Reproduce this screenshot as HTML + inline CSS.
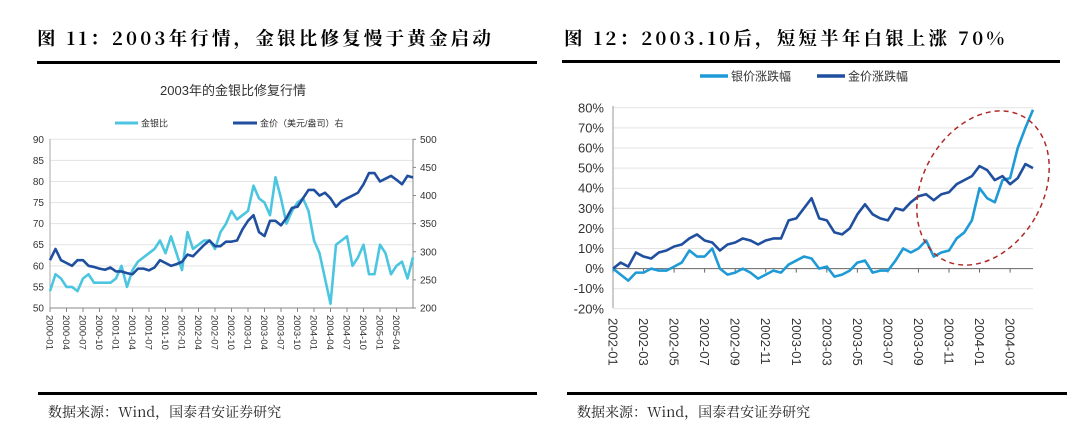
<!DOCTYPE html>
<html><head><meta charset="utf-8">
<style>
html,body{margin:0;padding:0;background:#fff;}
svg{display:block;}
.hdr{font-family:"Noto Serif CJK SC","Liberation Serif",serif;font-weight:bold;font-size:18.5px;letter-spacing:3.2px;fill:#000;}
.ftr{font-family:"Noto Serif CJK SC","Liberation Serif",serif;font-size:14px;fill:#222;}
.ax{font-family:"Liberation Sans","Noto Sans CJK SC",sans-serif;fill:#333;}
</style></head>
<body>
<svg id="s" width="1080" height="443" xmlns="http://www.w3.org/2000/svg">
<text class="hdr" x="37" y="45">图 11：2003年行情，金银比修复慢于黄金启动</text>
<rect x="37" y="61" width="500" height="3" fill="#000"/>
<text class="hdr" x="564" y="45">图 12：2003.10后，短短半年白银上涨 70%</text>
<rect x="562" y="60" width="498" height="3" fill="#000"/>
<rect x="38" y="392" width="499" height="3" fill="#000"/>
<rect x="567" y="392" width="500" height="3" fill="#000"/>
<text class="ftr" x="48" y="417">数据来源：Wind，国泰君安证券研究</text>
<text class="ftr" x="577" y="417">数据来源：Wind，国泰君安证券研究</text>
<text class="ax" x="233" y="95" font-size="13" text-anchor="middle" fill="#222">2003年的金银比修复行情</text>
<g id="L"></g><g id="R"></g>
</svg>
<script>
// ---- Left chart data (monthly from 2000-01) ----
const leftTicks=["2000-01","2000-04","2000-07","2000-10","2001-01","2001-04","2001-07","2001-10","2002-01","2002-04","2002-07","2002-10","2003-01","2003-04","2003-07","2003-10","2004-01","2004-04","2004-07","2004-10","2005-01","2005-04"];
const ratioTicks=[50,55,60,65,70,75,80,85,90];
const goldPxTicks=[200,250,300,350,400,450,500];
const goldSilverRatio=[54,58,57,55,55,54,57,58,56,56,56,56,57,60,55,59,61,62,63,64,66,63,67,63,59,68,64,65,66,66,64,68,70,73,71,72,73,79,76,75,72,81,76,70,73,75,76,73,66,63,57,51,65,66,67,60,62,65,58,58,65,63,58,60,61,57,62];
const goldPrice=[285,305,285,280,275,285,285,275,273,270,268,272,265,265,262,260,270,270,267,272,285,280,275,278,282,295,292,302,312,320,310,310,318,318,320,340,355,365,335,328,355,355,347,360,378,380,395,410,410,400,405,395,380,390,395,400,405,420,440,440,425,430,435,428,420,435,432];
// ---- Right chart data (half-monthly from 2002-01, %) ----
const rightTicks=["2002-01","2002-03","2002-05","2002-07","2002-09","2002-11","2003-01","2003-03","2003-05","2003-07","2003-09","2003-11","2004-01","2004-03"];
const pctTicks=[-20,-10,0,10,20,30,40,50,60,70,80];
const silverChg=[0,-3,-6,-2,-2,0,-1,-1,1,3,9,6,6,10,0,-3,-2,0,-2,-5,-3,-1,-2,2,4,6,5,0,1,-4,-3,-1,3,4,-2,-1,-1,4,10,8,10,14,6,8,9,15,18,24,40,35,33,44,45,60,70,79];
const goldChg=[0,3,1,8,6,5,8,9,11,12,15,17,14,13,9,12,13,15,14,12,14,15,15,24,25,30,35,25,24,18,17,20,27,32,27,25,24,30,29,33,36,37,34,37,38,42,44,46,51,49,44,46,42,45,52,50];

const NS="http://www.w3.org/2000/svg";
function mk(p,tag,at){const e=document.createElementNS(NS,tag);for(const k in at)e.setAttribute(k,at[k]);p.appendChild(e);return e;}

// Left
const L=document.getElementById('L');
const lx=m=>50+m*(363/66);
const ly=v=>308-(v-50)*(168.7/40);
const ry=v=>308-(v-200)*(168.7/300);
ratioTicks.forEach((v,i)=>{
  if(i>0){const g=mk(L,'line',{x1:50,x2:413,y1:ly(v),y2:ly(v),stroke:'#e3e3e3','stroke-width':1});
  }
  const t=mk(L,'text',{x:44,y:ly(v)+3.5,'font-size':10,'text-anchor':'end',class:'ax'});t.textContent=v;
  
});
goldPxTicks.forEach(v=>{
  const t=mk(L,'text',{x:420,y:ry(v)+3.5,'font-size':10,class:'ax'});t.textContent=v;
  
  const k=mk(L,'line',{x1:413,x2:416,y1:ry(v),y2:ry(v),stroke:'#888'});
  
});
let a=mk(L,'line',{x1:50,x2:50,y1:139,y2:308,stroke:'#aaa'});
a=mk(L,'line',{x1:413,x2:413,y1:139,y2:308,stroke:'#888'});
a=mk(L,'line',{x1:50,x2:413,y1:308,y2:308,stroke:'#888'});
leftTicks.forEach((s,i)=>{
  const x=lx(i*3);
  const k=mk(L,'line',{x1:x,x2:x,y1:308,y2:312,stroke:'#888'});
  const t=mk(L,'text',{x:0,y:0,'font-size':9.5,class:'ax',transform:`translate(${x-3.5},315) rotate(90)`});t.textContent=s;
  
});
let p=mk(L,'polyline',{points:goldSilverRatio.map((v,i)=>lx(i)+','+ly(v)).join(' '),fill:'none',stroke:'#4cc6e0','stroke-width':2.6,'stroke-linejoin':'round'});

p=mk(L,'polyline',{points:goldPrice.map((v,i)=>lx(i)+','+ry(v)).join(' '),fill:'none',stroke:'#1f4f9e','stroke-width':2.6,'stroke-linejoin':'round'});

let lg=mk(L,'line',{x1:115,x2:138,y1:123,y2:123,stroke:'#4cc6e0','stroke-width':3});
let lt=mk(L,'text',{x:141,y:126.5,'font-size':9,class:'ax'});lt.textContent='金银比';
lg=mk(L,'line',{x1:233,x2:257,y1:123,y2:123,stroke:'#1f4f9e','stroke-width':3});
lt=mk(L,'text',{x:260,y:126.5,'font-size':9,class:'ax'});lt.textContent='金价（美元/盎司）右';

// Right
const R=document.getElementById('R');
const rx=h=>613+h*(420/55);   // h = half-month index
const pyR=v=>268.6-v*2.01;
pctTicks.forEach(v=>{
  if(v!==0){const g=mk(R,'line',{x1:613,x2:1033,y1:pyR(v),y2:pyR(v),stroke:'#e3e3e3'});
  }
  const t=mk(R,'text',{x:604,y:pyR(v)+4.5,'font-size':13,'text-anchor':'end',class:'ax'});t.textContent=v+'%';
  
});
a=mk(R,'line',{x1:613,x2:613,y1:106,y2:308,stroke:'#999'});
a=mk(R,'line',{x1:613,x2:1033,y1:pyR(0),y2:pyR(0),stroke:'#666'});
rightTicks.forEach((s,i)=>{
  const x=rx(i*4);
  const k=mk(R,'line',{x1:x,x2:x,y1:pyR(0),y2:pyR(0)+4,stroke:'#666'});
  const t=mk(R,'text',{x:0,y:0,'font-size':13,class:'ax',transform:`translate(${x-4.5},318) rotate(90)`});t.textContent=s;
  
});
p=mk(R,'polyline',{points:silverChg.map((v,i)=>rx(i)+','+pyR(v)).join(' '),fill:'none',stroke:'#1e9ad6','stroke-width':2.6,'stroke-linejoin':'round'});

p=mk(R,'polyline',{points:goldChg.map((v,i)=>rx(i)+','+pyR(v)).join(' '),fill:'none',stroke:'#1f4f9e','stroke-width':2.6,'stroke-linejoin':'round'});

const el=mk(R,'ellipse',{cx:983,cy:188,rx:60,ry:82,fill:'none',stroke:'#b02a2a','stroke-width':1.5,'stroke-dasharray':'5,4',transform:'rotate(30 983 188)'});

lg=mk(R,'line',{x1:700,x2:728,y1:76,y2:76,stroke:'#1e9ad6','stroke-width':3.5});
lt=mk(R,'text',{x:731,y:80.5,'font-size':12,class:'ax'});lt.textContent='银价涨跌幅';
lg=mk(R,'line',{x1:817,x2:845,y1:76,y2:76,stroke:'#1f4f9e','stroke-width':3.5});
lt=mk(R,'text',{x:848,y:80.5,'font-size':12,class:'ax'});lt.textContent='金价涨跌幅';
</script>
</body></html>
